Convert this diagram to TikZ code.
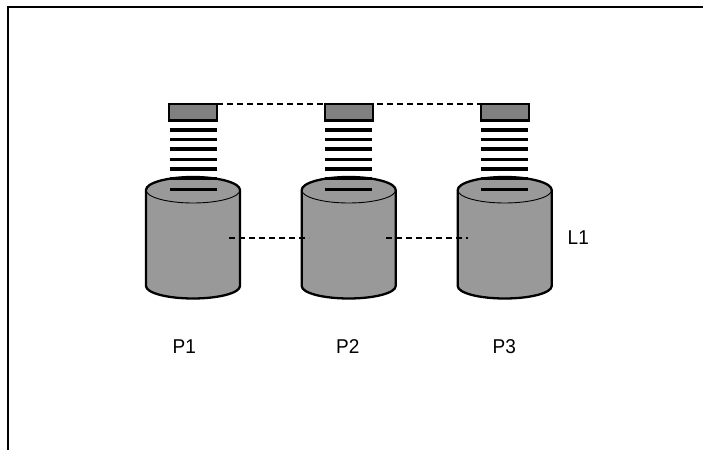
\documentclass[tikz,border=0pt]{standalone}
\usepackage{fontspec}
\setmainfont{Liberation Sans}
\definecolor{cylgray}{HTML}{999999}
\definecolor{boxgray}{HTML}{808080}
\begin{document}
\begin{tikzpicture}[x=1pt,y=1pt,
  frameline/.style={line width=2.5pt},
  boxst/.style={draw,line width=2.2pt,fill=boxgray,minimum width=48pt,minimum height=16.5pt,inner sep=0pt,outer sep=0pt},
  stripe/.style={line width=3.3pt},
  dashline/.style={line width=2.5pt,dash pattern=on 6pt off 4pt},
  lbl/.style={font=\fontsize{20}{20}\selectfont,inner sep=0pt,anchor=base west,xscale=0.95}]
\useasboundingbox (0,0) rectangle (703,450);
% frame (top and left only)
\draw[frameline] (7.8,0) -- (7.8,443) -- (703,443);
% top dashed link
\coordinate (t1) at (217,346);
\coordinate (t3) at (482,346);
\draw[dashline] (t1) -- (t3);
% cylinders
\foreach \cx/\n in {193/1,348.7/2,504.7/3}{
  \draw[line width=2.3pt,fill=cylgray] (\cx-47,260) -- (\cx-47,164)
     arc[start angle=180,end angle=360,x radius=47,y radius=12.5]
     -- (\cx+47,260)
     arc[start angle=0,end angle=180,x radius=47,y radius=13] -- cycle;
  \draw[line width=0.9pt] (\cx-47,260) arc[start angle=180,end angle=360,x radius=47,y radius=13];
  \foreach \y in {320,310.5,301,290.7,281,271.5,260.7}{
    \draw[stripe] (\cx-23.5,\y) -- (\cx+23.5,\y);
  }
  \node[boxst] (b\n) at (\cx,337.8) {};
}
% middle dashed links
\coordinate (m1a) at (229,212);
\coordinate (m1b) at (309,212);
\coordinate (m2a) at (386,212);
\coordinate (m2b) at (467.7,212);
\draw[dashline] (m1a) -- (m1b);
\draw[dashline] (m2a) -- (m2b);
% labels
\node[lbl] (L1) at (567.5,205) {L1};
\node[lbl] (P1) at (172.5,97) {P1};
\node[lbl] (P2) at (336,97) {P2};
\node[lbl] (P3) at (492.5,97) {P3};
\end{tikzpicture}
\end{document}
